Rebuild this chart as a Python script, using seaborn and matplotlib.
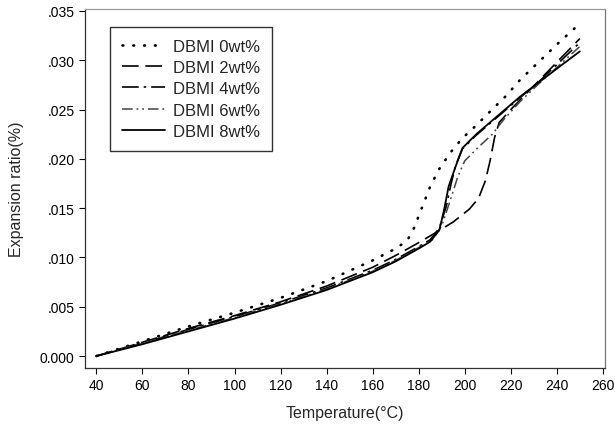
import matplotlib
matplotlib.use("Agg")
import matplotlib.pyplot as plt
import seaborn as sns
import pandas as pd

# ---- data ----
t0 = [40, 60, 80, 100, 120, 140, 160, 170, 175, 178, 181, 185, 189, 194, 199, 205, 211, 218, 224, 232, 240, 248]
v0 = [0, 0.0015, 0.0030, 0.0044, 0.0059, 0.0076, 0.0097, 0.0109, 0.0117, 0.0130, 0.0148, 0.0172, 0.0190, 0.0207,
      0.0221, 0.0234, 0.0248, 0.0264, 0.0280, 0.0298, 0.0316, 0.0333]

t2 = [40, 60, 80, 100, 120, 140, 160, 170, 180, 188, 195, 202, 206, 209, 211, 213, 215, 220, 230, 240, 250]
v2 = [0, 0.0014, 0.0028, 0.0041, 0.0055, 0.0071, 0.0090, 0.0102, 0.0115, 0.0126, 0.0136, 0.0149, 0.0160, 0.0178,
      0.0198, 0.0222, 0.0237, 0.0250, 0.0274, 0.0298, 0.0322]

t4 = [40, 60, 80, 100, 120, 140, 160, 170, 180, 185, 189, 192, 194, 196, 199, 205, 214, 224, 233, 242, 250]
v4 = [0, 0.0013, 0.0027, 0.0040, 0.0054, 0.0069, 0.0087, 0.0098, 0.0111, 0.0118, 0.0130, 0.0152, 0.0174, 0.0193,
      0.0210, 0.0224, 0.0242, 0.0262, 0.0280, 0.0300, 0.0318]

t6 = [40, 60, 80, 100, 120, 140, 160, 170, 180, 186, 190, 194, 197, 200, 206, 212, 217, 224, 233, 242, 250]
v6 = [0, 0.0013, 0.0026, 0.0039, 0.0053, 0.0068, 0.0086, 0.0097, 0.0110, 0.0118, 0.0132, 0.0160, 0.0182, 0.0198,
      0.0212, 0.0225, 0.0240, 0.0258, 0.0278, 0.0297, 0.0314]

t8 = [40, 60, 80, 100, 120, 140, 160, 170, 180, 185, 189, 191, 193, 196, 199, 205, 214, 224, 233, 242, 250]
v8 = [0, 0.0012, 0.0025, 0.0038, 0.0052, 0.0067, 0.0085, 0.0096, 0.0109, 0.0116, 0.0128, 0.0148, 0.0172, 0.0192,
      0.0211, 0.0225, 0.0243, 0.0263, 0.0279, 0.0295, 0.0309]

labels = ["DBMI 0wt%", "DBMI 2wt%", "DBMI 4wt%", "DBMI 6wt%", "DBMI 8wt%"]
x_ticks = [40, 60, 80, 100, 120, 140, 160, 180, 200, 220, 240, 260]
y_ticks = [0.000, 0.005, 0.010, 0.015, 0.020, 0.025, 0.030, 0.035]
y_ticklabels = ["0.000", ".005", ".010", ".015", ".020", ".025", ".030", ".035"]
x_label = "Temperature(°C)"
y_label = "Expansion ratio(%)"

frames = []
for lab, t, v in zip(labels, [t0, t2, t4, t6, t8], [v0, v2, v4, v6, v8]):
    frames.append(pd.DataFrame({"T": t, "v": v, "series": lab}))
df = pd.concat(frames, ignore_index=True)

sns.set_style("white")
plt.rcParams["font.family"] = ["Liberation Sans", "DejaVu Sans"]

fig = plt.figure(figsize=(6.15, 4.35), dpi=100)
ax = fig.add_axes([0.138, 0.152, 0.846, 0.825])

styles = {
    "DBMI 0wt%": dict(linestyle=(0, (0.3, 3.8)), linewidth=1.9, color="black", dash_capstyle="round"),
    "DBMI 2wt%": dict(linestyle=(0, (10, 4)), linewidth=1.2, color="black"),
    "DBMI 4wt%": dict(linestyle=(0, (10, 3, 1.5, 3)), linewidth=1.2, color="black"),
    "DBMI 6wt%": dict(linestyle=(0, (7, 2.5, 1.2, 2.5, 1.2, 2.5)), linewidth=1.1, color="#444444"),
    "DBMI 8wt%": dict(linestyle="-", linewidth=1.3, color="black"),
}
for lab in labels:
    sub = df[df["series"] == lab]
    sns.lineplot(data=sub, x="T", y="v", ax=ax, label=lab, sort=False, **styles[lab])

ax.set_xlim(35, 261)
ax.set_ylim(-0.0012, 0.0352)
ax.set_xticks(x_ticks)
ax.set_xticklabels([str(x) for x in x_ticks])
ax.set_yticks(y_ticks)
ax.set_yticklabels(y_ticklabels)
ax.tick_params(axis="both", direction="out", length=4, width=0.8, labelsize=10, colors="black", bottom=True, left=True)
ax.set_xlabel(x_label, fontsize=11.5, labelpad=9)
ax.set_ylabel(y_label, fontsize=11.5, labelpad=11)

for side, sp in ax.spines.items():
    sp.set_visible(True)
    sp.set_linewidth(0.9)
    sp.set_color("#333333")
ax.spines["top"].set_color("#999999")
ax.spines["right"].set_color("#777777")

leg = ax.legend(loc="upper left", bbox_to_anchor=(0.048, 0.95), fontsize=12, frameon=True,
                fancybox=False, handlelength=2.6, handletextpad=0.5, borderpad=0.7, labelspacing=0.38,
                borderaxespad=0)
leg.get_frame().set_edgecolor("black")
leg.get_frame().set_linewidth(1.0)

fig.savefig("out.png", dpi=100)
